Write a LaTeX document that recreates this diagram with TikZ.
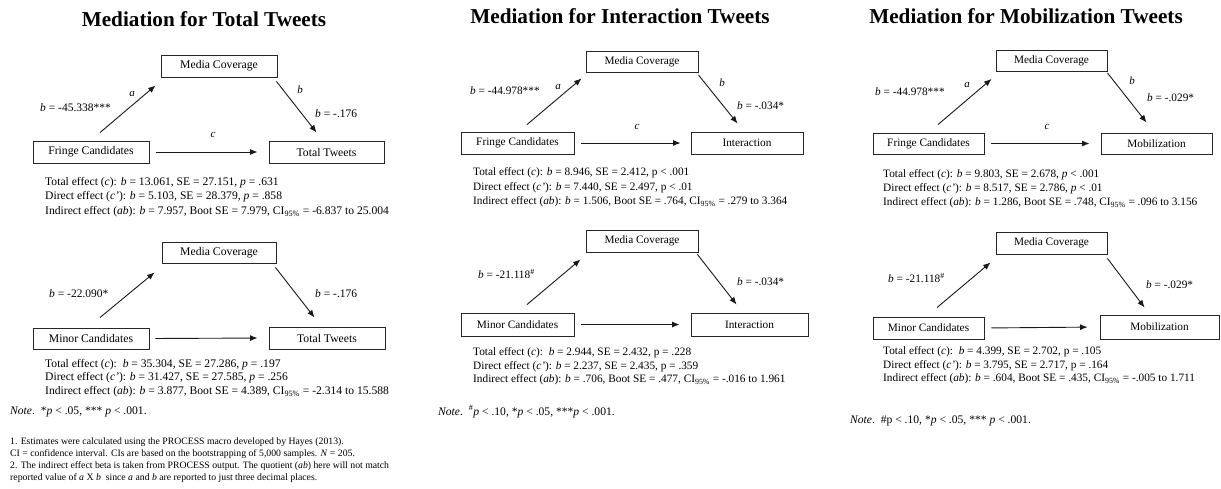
\documentclass[tikz,border=0pt]{standalone}
\usepackage{fontspec}
\setmainfont{Liberation Serif}
\usetikzlibrary{arrows.meta}
\tikzset{
  box/.style={draw=black!85, line width=0.9pt, inner sep=0pt, font=\fontsize{11.7}{13}\selectfont},
  boxs/.style={box, font=\fontsize{11.3}{13}\selectfont},
  arr/.style={draw=black!90, line width=0.9pt, -{Latex[length=7.5pt,width=6pt]}},
  ttl/.style={anchor=base, inner sep=0pt, font=\fontsize{21.2}{24}\selectfont\bfseries},
  lbl/.style={anchor=base west, inner sep=0pt, font=\fontsize{11.5}{13}\selectfont},
  lbls/.style={lbl, font=\fontsize{11.3}{13}\selectfont},
  pth/.style={inner sep=0pt, font=\fontsize{11}{13}\selectfont\itshape},
  eff/.style={anchor=north west, inner sep=0pt, align=left, font=\fontsize{11.6}{14.5}\selectfont},
  effb/.style={eff, font=\fontsize{11.6}{13.6}\selectfont},
  effs/.style={eff, font=\fontsize{11.3}{14.5}\selectfont},
  effsb/.style={eff, font=\fontsize{11.3}{13.6}\selectfont},
  nte/.style={anchor=base west, inner sep=0pt, font=\fontsize{11.6}{13}\selectfont},
  fnt/.style={anchor=north west, inner sep=0pt, align=left, font=\fontsize{9.75}{11.7}\selectfont},
}
\newcommand{\CIn}{CI\textsubscript{95\%}}
\begin{document}
\begin{tikzpicture}[x=1pt,y=-1pt]
\useasboundingbox[fill=white] (0,0) rectangle (1221,488);

% ================= Panel 1 =================
\node[ttl] (t1) at (204,26) {Mediation for Total Tweets};
% top model
\node[box, minimum width=116pt, minimum height=22pt] (m1) at (219,66) {Media Coverage};
\node[box, minimum width=116pt, minimum height=22pt] (f1) at (91,152) {Fringe Candidates};
\node[box, minimum width=115pt, minimum height=22pt] (y1) at (326.5,152) {Total Tweets};
\draw[arr] ([shift={(9pt,8pt)}]f1.north) -- ([shift={(-5pt,-8pt)}]m1.south west);
\draw[arr] ([shift={(-1pt,-4pt)}]m1.south east) -- ([shift={(48pt,8pt)}]y1.north west);
\draw[arr, shorten <=7pt, shorten >=11pt] (f1.east) -- (y1.west);
\node[pth] (a1) at (132,94) {a};
\node[pth] (b1) at (300,90) {b};
\node[pth] (c1) at (213,135) {c};
\node[lbl] (la1) at (40,111) {\textit{b} = -45.338***};
\node[lbl] (lb1) at (315,117) {\textit{b} = -.176};
\node[eff] (e1) at (45,177) {Total effect (\textit{c}): \textit{b} = 13.061, SE = 27.151, \textit{p} = .631\\
Direct effect (\textit{c'}): \textit{b} = 5.103, SE = 28.379, \textit{p} = .858\\
Indirect effect (\textit{ab}): \textit{b} = 7.957, Boot SE = 7.979, \CIn{} = -6.837 to 25.004};
% bottom model
\node[box, minimum width=114pt, minimum height=21pt] (m1b) at (219,252.5) {Media Coverage};
\node[box, minimum width=116pt, minimum height=21pt] (f1b) at (91,338.5) {Minor Candidates};
\node[box, minimum width=116pt, minimum height=22pt] (y1b) at (327,338) {Total Tweets};
\draw[arr] ([shift={(9pt,10pt)}]f1b.north) -- ([shift={(-7pt,-9pt)}]m1b.south west);
\draw[arr] ([shift={(-1pt,-4pt)}]m1b.south east) -- ([shift={(46pt,9pt)}]y1b.north west);
\draw[arr, shorten <=6pt, shorten >=11pt] (f1b.east) -- (y1b.west);
\node[lbl] (la1b) at (49,297) {\textit{b} = -22.090*};
\node[lbl] (lb1b) at (315,297) {\textit{b} = -.176};
\node[effb] (e1b) at (45,359) {Total effect (\textit{c}):\ \ \textit{b} = 35.304, SE = 27.286, \textit{p} = .197\\
Direct effect (\textit{c'}): \textit{b} = 31.427, SE = 27.585, \textit{p} = .256\\
Indirect effect (\textit{ab}): \textit{b} = 3.877, Boot SE = 4.389, \CIn{} = -2.314 to 15.588};
\node[nte] (n1) at (10,414) {\textit{Note}.\ \ *\textit{p} {\textless} .05, *** \textit{p} {\textless} .001.};
\node[fnt] (fn1) at (10,438) {1. Estimates were calculated using the PROCESS macro developed by Hayes (2013).\\
CI = confidence interval. CIs are based on the bootstrapping of 5,000 samples. \textit{N} = 205.\\
2. The indirect effect beta is taken from PROCESS output. The quotient (\textit{ab}) here will not match\\
reported value of \textit{a} X \textit{b}\ \ since \textit{a} and \textit{b} are reported to just three decimal places.};

% ================= Panel 2 =================
\node[ttl] (t2) at (620,23) {Mediation for Interaction Tweets};
\node[boxs, minimum width=112pt, minimum height=21pt] (m2) at (642,62) {Media Coverage};
\node[boxs, minimum width=113pt, minimum height=22pt] (f2) at (517.5,143) {Fringe Candidates};
\node[boxs, minimum width=112pt, minimum height=22pt] (y2) at (747,143) {Interaction};
\draw[arr] ([shift={(9.5pt,7pt)}]f2.north) -- ([shift={(-4pt,-5.5pt)}]m2.south west);
\draw[arr] ([shift={(0pt,-2pt)}]m2.south east) -- ([shift={(47pt,8pt)}]y2.north west);
\draw[arr, shorten <=7pt, shorten >=10pt] (f2.east) -- (y2.west);
\node[pth] (a2) at (558,87) {a};
\node[pth] (b2) at (722,83) {b};
\node[pth] (c2) at (637,127) {c};
\node[lbls] (la2) at (470,94) {\textit{b} = -44.978***};
\node[lbls] (lb2) at (737,109) {\textit{b} = -.034*};
\node[effs] (e2) at (473,167.5) {Total effect (\textit{c}): \textit{b} = 8.946, SE = 2.412, p {\textless} .001\\
Direct effect (\textit{c'}): \textit{b} = 7.440, SE = 2.497, p {\textless} .01\\
Indirect effect (\textit{ab}): \textit{b} = 1.506, Boot SE = .764, \CIn{} = .279 to 3.364};
\node[boxs, minimum width=112pt, minimum height=22pt] (m2b) at (642,241) {Media Coverage};
\node[boxs, minimum width=113pt, minimum height=23pt] (f2b) at (517.5,324.5) {Minor Candidates};
\node[boxs, minimum width=117pt, minimum height=23pt] (y2b) at (749.5,324.5) {Interaction};
\draw[arr] ([shift={(9.5pt,8pt)}]f2b.north) -- ([shift={(-5pt,-7pt)}]m2b.south west);
\draw[arr] ([shift={(-1pt,-2pt)}]m2b.south east) -- ([shift={(46pt,8pt)}]y2b.north west);
\draw[arr, shorten <=7pt, shorten >=11pt] (f2b.east) -- (y2b.west);
\node[lbls] (la2b) at (478,278) {\textit{b} = -21.118\textsuperscript{\#}};
\node[lbls] (lb2b) at (737,285) {\textit{b} = -.034*};
\node[effsb] (e2b) at (473,347.5) {Total effect (\textit{c}):\ \ \textit{b} = 2.944, SE = 2.432, p = .228\\
Direct effect (\textit{c'}): \textit{b} = 2.237, SE = 2.435, p = .359\\
Indirect effect (\textit{ab}): \textit{b} = .706, Boot SE = .477, \CIn{} = -.016 to 1.961};
\node[nte] (n2) at (438,415) {\textit{Note}.\ \ \textsuperscript{\#}\textit{p} {\textless} .10, *\textit{p} {\textless} .05, ***\textit{p} {\textless} .001.};

% ================= Panel 3 =================
\node[ttl] (t3) at (1026,23) {Mediation for Mobilization Tweets};
\node[boxs, minimum width=111pt, minimum height=21pt] (m3) at (1051.5,61) {Media Coverage};
\node[boxs, minimum width=111pt, minimum height=21pt] (f3) at (928.5,143.5) {Fringe Candidates};
\node[boxs, minimum width=111pt, minimum height=21pt] (y3) at (1156.5,143.5) {Mobilization};
\draw[arr] ([shift={(9.5pt,8pt)}]f3.north) -- ([shift={(-4pt,-7pt)}]m3.south west);
\draw[arr] ([shift={(0pt,-1pt)}]m3.south east) -- ([shift={(46pt,10pt)}]y3.north west);
\draw[arr, shorten <=7pt, shorten >=11pt] (f3.east) -- (y3.west);
\node[pth] (a3) at (967,85) {a};
\node[pth] (b3) at (1132,81) {b};
\node[pth] (c3) at (1047,127) {c};
\node[lbls] (la3) at (875,95) {\textit{b} = -44.978***};
\node[lbls] (lb3) at (1147,101) {\textit{b} = -.029*};
\node[effs, font=\fontsize{11.3}{14}\selectfont] (e3) at (883,169.5) {Total effect (\textit{c}): \textit{b} = 9.803, SE = 2.678, \textit{p} {\textless} .001\\
Direct effect (\textit{c'}): \textit{b} = 8.517, SE = 2.786, \textit{p} {\textless} .01\\
Indirect effect (\textit{ab}): \textit{b} = 1.286, Boot SE = .748, \CIn{} = .096 to 3.156};
\node[boxs, minimum width=111pt, minimum height=22pt] (m3b) at (1051.5,243) {Media Coverage};
\node[boxs, minimum width=111pt, minimum height=22pt] (f3b) at (928.5,328) {Minor Candidates};
\node[boxs, minimum width=119pt, minimum height=24pt] (y3b) at (1159.5,327) {Mobilization};
\draw[arr] ([shift={(8.5pt,9pt)}]f3b.north) -- ([shift={(-5pt,-8pt)}]m3b.south west);
\draw[arr] ([shift={(0pt,-4pt)}]m3b.south east) -- ([shift={(45pt,7pt)}]y3b.north west);
\draw[arr, shorten <=7pt, shorten >=12pt] (f3b.east) -- (y3b.west);
\node[lbls] (la3b) at (888,282) {\textit{b} = -21.118\textsuperscript{\#}};
\node[lbls] (lb3b) at (1146,288) {\textit{b} = -.029*};
\node[effsb] (e3b) at (883,346.5) {Total effect (\textit{c}):\ \ \textit{b} = 4.399, SE = 2.702, p = .105\\
Direct effect (\textit{c'}): \textit{b} = 3.795, SE = 2.717, p = .164\\
Indirect effect (\textit{ab}): \textit{b} = .604, Boot SE = .435, \CIn{} = -.005 to 1.711};
\node[nte] (n3) at (850,423) {\textit{Note}.\ \ \#p {\textless} .10, *\textit{p} {\textless} .05, *** \textit{p} {\textless} .001.};
\end{tikzpicture}
\end{document}
